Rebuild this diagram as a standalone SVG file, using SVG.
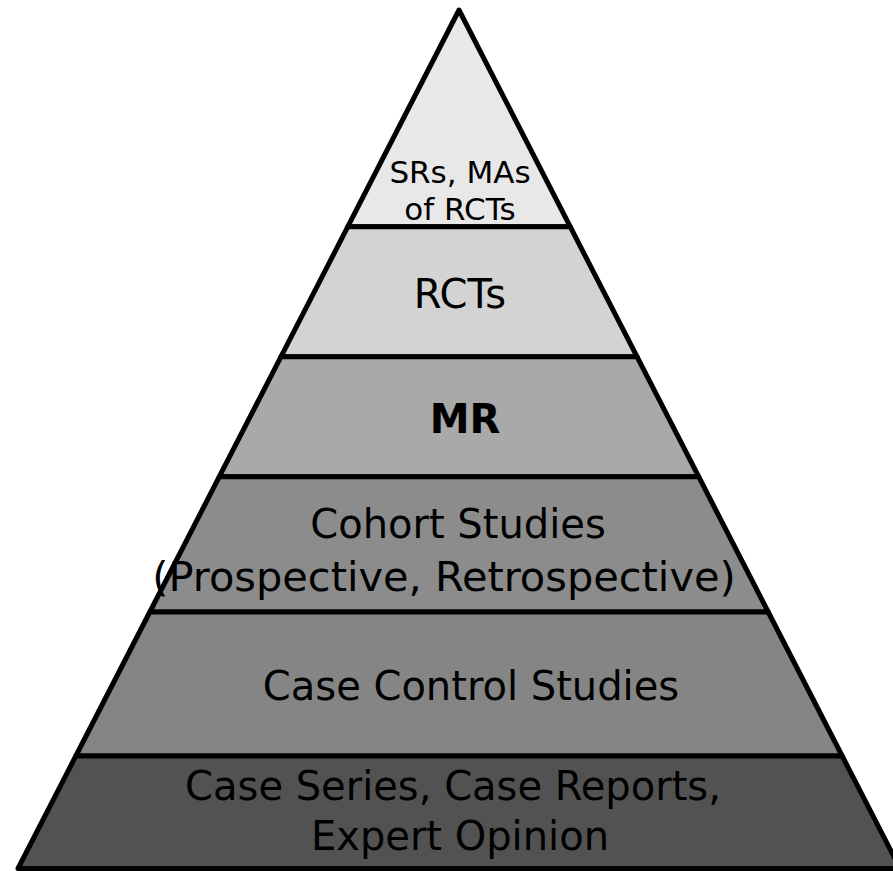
<svg xmlns="http://www.w3.org/2000/svg" width="893" height="871" viewBox="0 0 893 871">
<style>
.band{stroke:#000;stroke-width:5;stroke-linejoin:round}
.t{font-family:"DejaVu Sans",Verdana,sans-serif;font-size:40px;fill:#000;text-anchor:middle}
.s{font-size:31px}
.b{font-weight:bold}
</style>
<rect width="893" height="871" fill="#fff"/>
<g id="tier6">
<polygon class="band" fill="#e8e8e8" points="459,10 570.2,226.7 347.8,226.7"/>
<text class="t s" x="460" y="183">SRs, MAs</text>
<text class="t s" x="460" y="220">of RCTs</text>
</g>
<g id="tier5">
<polygon class="band" fill="#d3d3d3" points="347.8,226.7 570.2,226.7 637,356.7 281,356.7"/>
<text class="t" x="460" y="308">RCTs</text>
</g>
<g id="tier4">
<polygon class="band" fill="#a9a9a9" points="281,356.7 637,356.7 698.7,476.7 219.3,476.7"/>
<text class="t b" x="465" y="433">MR</text>
</g>
<g id="tier3">
<polygon class="band" fill="#8c8c8c" points="219.3,476.7 698.7,476.7 768.2,612 149.8,612"/>
<text class="t" x="458" y="538">Cohort Studies</text>
<text class="t" x="444" y="591" style="font-size:41.5px">(Prospective, Retrospective)</text>
</g>
<g id="tier2">
<polygon class="band" fill="#858585" points="149.8,612 768.2,612 842.2,756 75.8,756"/>
<text class="t" x="471" y="700">Case Control Studies</text>
</g>
<g id="tier1">
<polygon class="band" fill="#525252" points="75.8,756 842.2,756 900,868.5 18,868.5"/>
<text class="t" x="453" y="800">Case Series, Case Reports,</text>
<text class="t" x="460" y="850">Expert Opinion</text>
</g>
</svg>
